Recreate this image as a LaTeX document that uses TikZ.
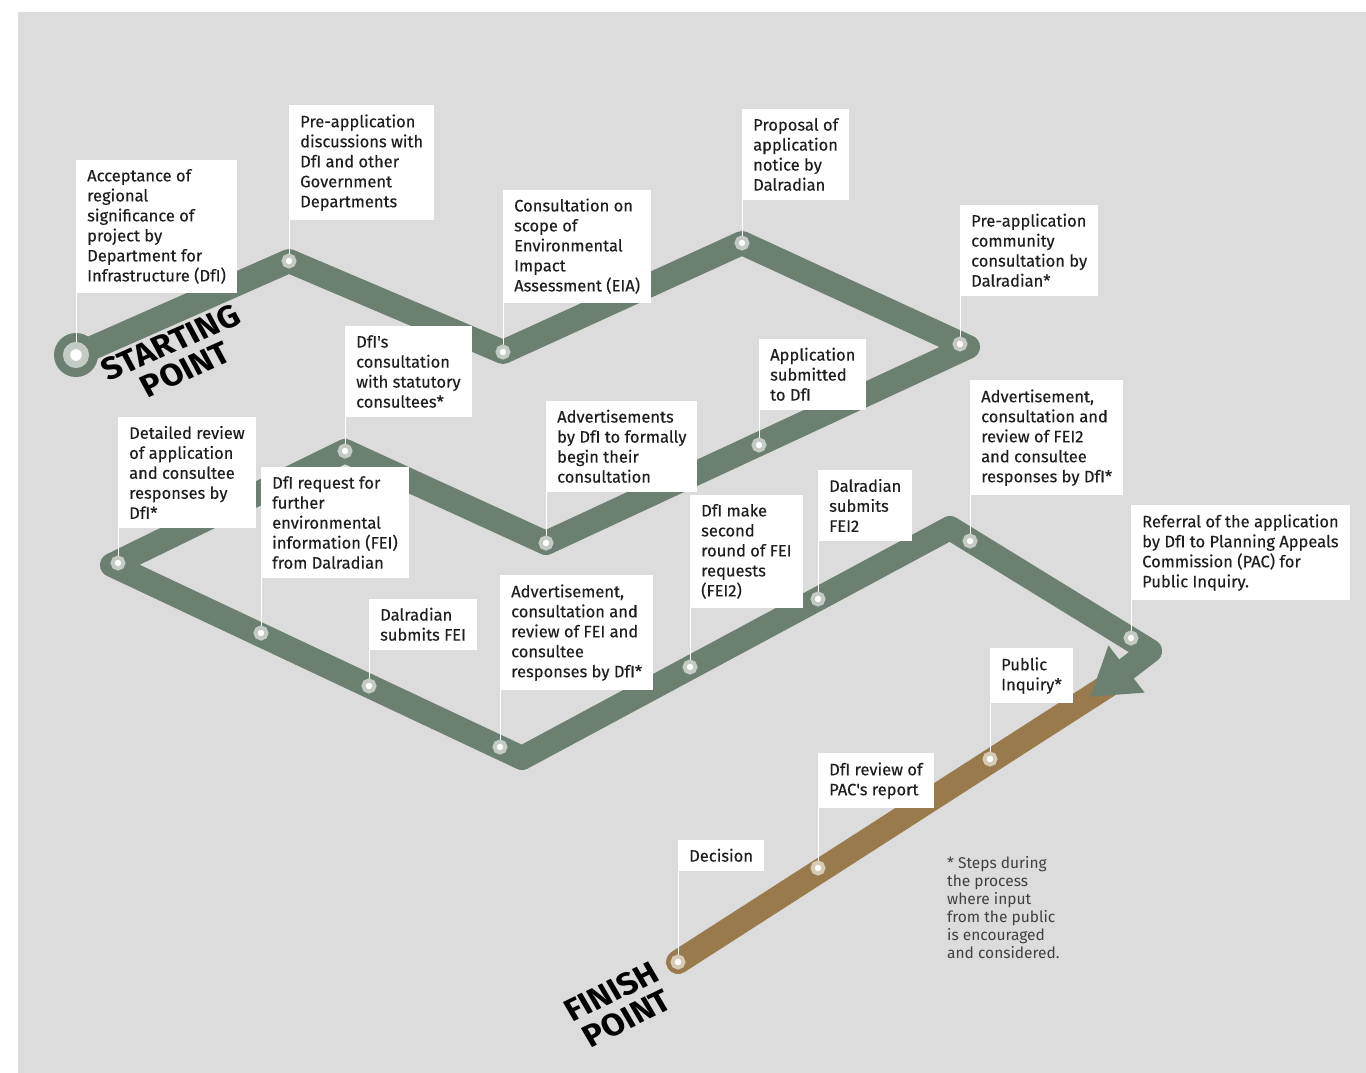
\documentclass[tikz,border=0pt]{standalone}
\usepackage{fontspec}
\setmainfont{Fira Sans}
\newfontfamily\lblfam[FakeBold=0.25]{Fira Sans}
\usetikzlibrary{arrows.meta,backgrounds}

\definecolor{paper}{HTML}{DCDCDC}
\definecolor{trackgreen}{HTML}{6B8070}
\definecolor{trackbrown}{HTML}{987A4C}
\definecolor{greenring}{HTML}{C3CBC4}
\definecolor{brownring}{HTML}{D8CBB6}
\definecolor{ink}{HTML}{1E1E1E}

\newcommand\lblfont{\lblfam\fontsize{16.5}{20}\selectfont}
\newcommand\tagfont{\fontsize{31}{30}\selectfont\bfseries}
\newcommand\notefont{\fontsize{15.5}{18}\selectfont}

\tikzset{
  stop/.style={circle, fill=white, draw=greenring, line width=4pt, minimum size=11pt, inner sep=0pt},
  brownstop/.style={stop, draw=brownring},
  firststop/.style={stop, line width=7pt, minimum size=19pt},
  lbl/.style={fill=white, text=ink, font=\lblfont, align=left, anchor=south west, inner xsep=11pt, inner ysep=9pt},
  lead/.style={draw=white, line width=1pt},
  track/.style={line width=24pt, line join=round},
  endtag/.style={font=\tagfont, text=black, align=center, inner sep=0pt, xscale=1.1}
}

\begin{document}
\begin{tikzpicture}[x=1pt, y=-1pt]
\useasboundingbox (0,0) rectangle (1366,1073);

% turning points of the route
\coordinate (v4) at (968,347);
\coordinate (v7) at (112,565);
\coordinate (v8) at (522,758);
\coordinate (v9) at (950,528);
\coordinate (v10) at (1150,651);
\coordinate (tip) at (1090,697);
\coordinate (bend) at (1112,683);

% stops
\node[firststop] (s1) at (76,355) {};
\node[stop] (s2) at (289,261) {};
\node[stop] (s3) at (503,352) {};
\node[stop] (s4) at (742,243) {};
\node[stop] (s5) at (960,344) {};
\node[stop] (s6) at (759,445) {};
\node[stop] (s7) at (546,543) {};
\node[stop] (s8) at (345,451) {};
\node[stop] (s9) at (118,563) {};
\node[stop] (s10) at (261,633) {};
\node[stop] (s11) at (369,686) {};
\node[stop] (s12) at (500,747) {};
\node[stop] (s13) at (690,667) {};
\node[stop] (s14) at (818,599) {};
\node[stop] (s15) at (970,541) {};
\node[stop] (s16) at (1131,638) {};
\node[brownstop] (s17) at (990,759) {};
\node[brownstop] (s18) at (818,868) {};
\node[brownstop] (s19) at (678,962) {};

% labels
\node[lbl] (l1) at (76,293) {Acceptance of\\regional\\significance of\\project by\\Department for\\Infrastructure (DfI)};
\node[lbl] (l2) at (289,220) {Pre-application\\discussions with\\DfI and other\\Government\\Departments};
\node[lbl] (l3) at (503,303) {Consultation on\\scope of\\Environmental\\Impact\\Assessment (EIA)};
\node[lbl] (l4) at (742,200) {Proposal of\\application\\notice by\\Dalradian};
\node[lbl] (l5) at (960,296) {Pre-application\\community\\consultation by\\Dalradian*};
\node[lbl] (l6) at (759,410) {Application\\submitted\\to DfI};
\node[lbl] (l7) at (546,492) {Advertisements\\by DfI to formally\\begin their\\consultation};
\node[lbl] (l8) at (345,417) {DfI's\\consultation\\with statutory\\consultees*};
\node[lbl] (l9) at (118,528) {Detailed review\\of application\\and consultee\\responses by\\DfI*};
\node[lbl] (l10) at (261,578) {DfI request for\\further\\environmental\\information (FEI)\\from Dalradian};
\node[lbl] (l11) at (369,650) {Dalradian\\submits FEI};
\node[lbl] (l12) at (500,690) {Advertisement,\\consultation and\\review of FEI and\\consultee\\responses by DfI*};
\node[lbl] (l13) at (690,608) {DfI make\\second\\round of FEI\\requests\\(FEI2)};
\node[lbl] (l14) at (818,541) {Dalradian\\submits\\FEI2};
\node[lbl] (l15) at (970,495) {Advertisement,\\consultation and\\review of FEI2\\and consultee\\responses by DfI*};
\node[lbl] (l16) at (1131,600) {Referral of the application\\by DfI to Planning Appeals\\Commission (PAC) for\\Public Inquiry.};
\node[lbl] (l17) at (990,703) {Public\\Inquiry*};
\node[lbl] (l18) at (818,808) {DfI review of\\PAC's report};
\node[lbl] (l19) at (678,871) {Decision};

% start and finish
\node[endtag, rotate=26] (start) at (178,356) {STARTING\\POINT};
\node[endtag, rotate=28] (finish) at (619,1005) {FINISH\\POINT};

\node[font=\notefont, text=ink!85, align=left, anchor=north west, inner sep=0pt] (note) at (947,856)
  {* Steps during\\the process\\where input\\from the public\\is encouraged\\and considered.};

\begin{scope}[on background layer]
\fill[paper] (18,12) rectangle (1366,1073);
\draw[track, draw=trackbrown, line cap=round] (s19.center) -- (bend);
\draw[track, draw=trackgreen, line cap=round, -{Triangle[length=46pt,width=56pt]}]
  (s1.center) -- (s2.center) -- (s3.center) -- (s4.center) -- (v4) -- (s7.center)
  -- (s8.center) -- (v7) -- (v8) -- (v9) -- (v10) -- (tip);
\fill[trackgreen] (s1) circle (22pt);
\foreach \i in {1,...,19}
  \draw[lead] (l\i.south west) -- (s\i.center);
\end{scope}

\end{tikzpicture}
\end{document}
